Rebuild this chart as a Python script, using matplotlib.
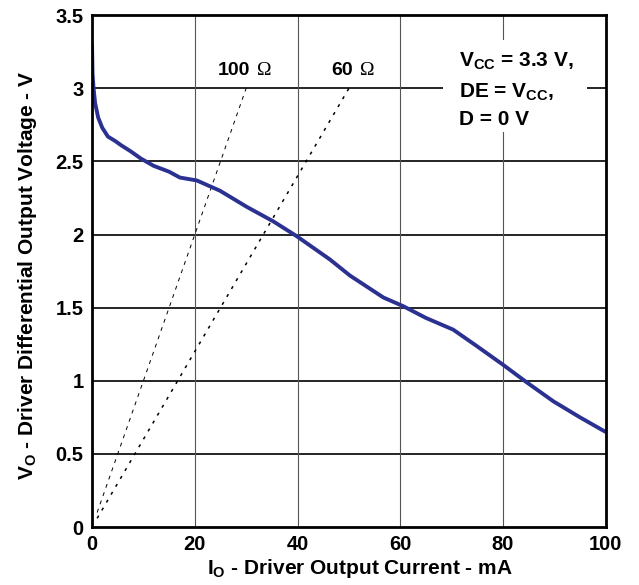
import matplotlib
matplotlib.use("Agg")
import matplotlib.pyplot as plt
from matplotlib.patches import Rectangle

plt.rcParams["font.family"] = ["Liberation Sans", "DejaVu Sans"]
plt.rcParams["font.weight"] = "bold"
plt.rcParams["mathtext.fontset"] = "custom"
plt.rcParams["mathtext.rm"] = "Liberation Sans:bold"
plt.rcParams["mathtext.bf"] = "Liberation Sans:bold"
plt.rcParams["mathtext.it"] = "Liberation Sans:bold"

# driver output curve (mA, V)
io_ma = [0, 0.1, 0.3, 0.6, 1.2, 2, 3.1, 4.5, 5.7, 7.5, 9.5, 12, 15, 17.1,
         20.4, 24.9, 30.1, 35.3, 39.8, 46.3, 50.2, 56.7, 60.6, 65, 70.3,
         74.8, 80, 84.6, 89.8, 95, 100]
vo = [3.30, 3.10, 3.00, 2.90, 2.80, 2.73, 2.67, 2.64, 2.61, 2.57, 2.52,
      2.47, 2.43, 2.39, 2.37, 2.30, 2.19, 2.09, 1.99, 1.83, 1.72, 1.57,
      1.51, 1.43, 1.35, 1.24, 1.11, 0.99, 0.86, 0.75, 0.65]

# load lines: label, resistance (ohm), current span (mA)
loads = [("100", 100, [1, 30]), ("60", 60, [1, 50])]

fig = plt.figure(figsize=(6.39, 5.85), dpi=100)
ax = fig.add_axes([0.144, 0.099, 0.804, 0.875])

for y in [0.5, 1, 1.5, 2, 2.5, 3]:
    ax.axhline(y, color="black", lw=1.2, zorder=1)
for x in [20, 40, 60, 80]:
    ax.axvline(x, color="#555555", lw=0.8, zorder=1)

for name, r, cur in loads:
    v = [c * r / 1000.0 for c in cur]
    if r == 100:
        ax.plot(cur, v, color="black", lw=0.7, ls=(0, (4, 5)), zorder=2)
    else:
        ax.plot(cur, v, color="black", lw=1.1, ls=(0, (2, 4)), zorder=2)
    ax.text(cur[1] + 0.8, 3.09, name, ha="right", va="baseline",
            fontsize=14, fontweight="bold", zorder=4)
    ax.annotate("\u03a9", (cur[1] + 0.8, 3.09), xytext=(5, 0),
                textcoords="offset points", ha="left", va="baseline",
                fontsize=14, fontweight="normal",
                family=["Liberation Serif", "DejaVu Serif"], zorder=4)

ax.plot(io_ma, vo, color="#2b3190", lw=2.8, zorder=3,
        solid_capstyle="butt")

ax.add_patch(Rectangle((68.3, 2.70), 28, 0.63, facecolor="white",
                       edgecolor="none", zorder=2.5))
tx = 71.4
ax.text(tx, 3.146, r"$\mathbf{V_{CC}}$ = 3.3 V,", fontsize=15,
        va="baseline", zorder=4)
ax.text(tx, 2.937, r"DE = $\mathbf{V_{CC}}$,", fontsize=15,
        va="baseline", zorder=4)
ax.text(tx, 2.748, "D = 0 V", fontsize=15, va="baseline", zorder=4)

ax.set_xlim(0, 100)
ax.set_ylim(0, 3.5)
ax.set_xticks([0, 20, 40, 60, 80, 100])
ax.set_yticks([0, 0.5, 1, 1.5, 2, 2.5, 3, 3.5])
ax.set_yticklabels(["0", "0.5", "1", "1.5", "2", "2.5", "3", "3.5"])
ax.tick_params(length=0, labelsize=14.5, pad=6)
for lab in ax.get_xticklabels() + ax.get_yticklabels():
    lab.set_fontweight("bold")
for s in ax.spines.values():
    s.set_linewidth(2)
    s.set_zorder(5)

ax.set_xlabel(r"$\mathbf{I_O}$ - Driver Output Current - mA", fontsize=15,
              fontweight="bold")
ax.set_ylabel(r"$\mathbf{V_O}$ - Driver Differential Output Voltage - V",
              fontsize=15, fontweight="bold")
ax.xaxis.set_label_coords(0.521, -0.059)
ax.yaxis.set_label_coords(-0.103, 0.492)

fig.savefig("out.png", dpi=100)
